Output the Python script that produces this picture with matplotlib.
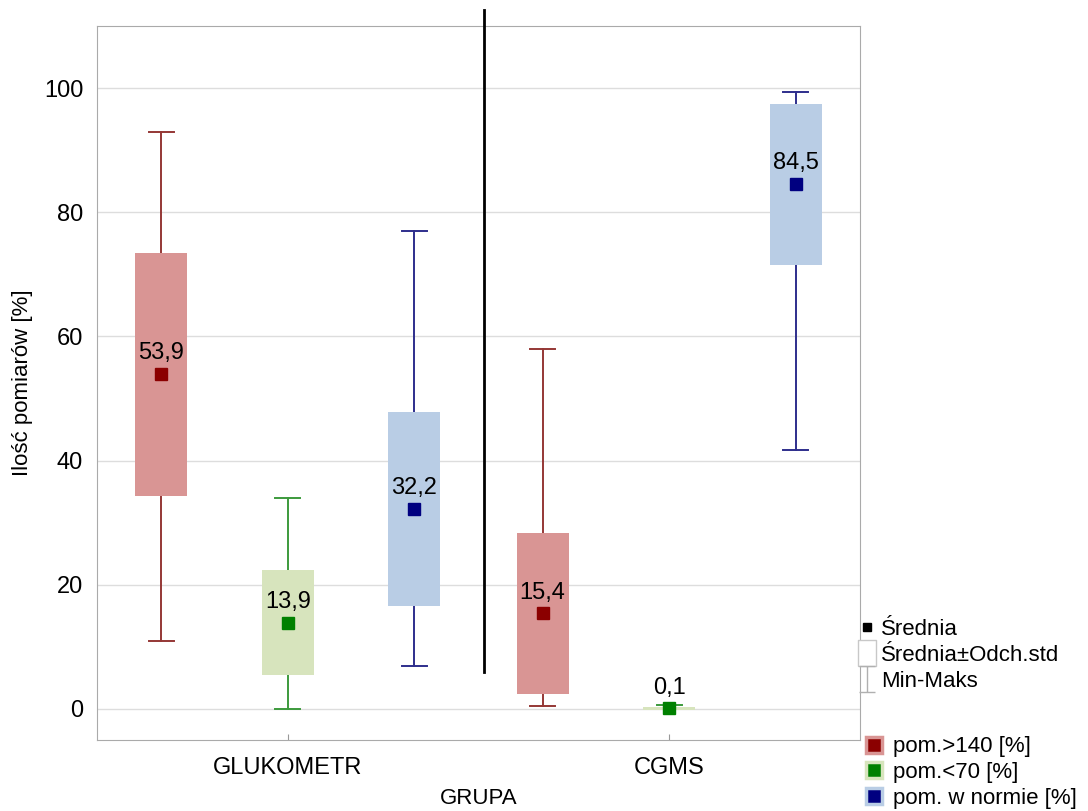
import matplotlib
matplotlib.use("Agg")
import matplotlib.pyplot as plt
from matplotlib.lines import Line2D
from matplotlib.patches import Rectangle
from matplotlib.path import Path

plt.rcParams['font.family'] = ['Liberation Sans', 'DejaVu Sans']

# dane
grupy = ["GLUKOMETR", "CGMS"]
serie = ["pom.>140 [%]", "pom.<70 [%]", "pom. w normie [%]"]
srednia = [[53.9, 13.9, 32.2], [15.4, 0.1, 84.5]]
odch_std = [[19.6, 8.45, 15.6], [12.95, 0.2, 12.95]]
minimum = [[11.0, 0.0, 7.0], [0.5, 0.0, 41.7]]
maksimum = [[93.0, 34.0, 77.0], [58.0, 0.6, 99.4]]
etykiety = [["53,9", "13,9", "32,2"], ["15,4", "0,1", "84,5"]]

kolor_box = ["#d99594", "#d7e4bd", "#b9cde5"]
kolor_wasy = ["#953735", "#3c9a3c", "#2e2e8c"]
kolor_sr = ["#8b0000", "#008000", "#000080"]

fig = plt.figure(figsize=(10.88, 8.11), dpi=100)
ax = fig.add_axes([0.0892, 0.0875, 0.7012, 0.8805])

srodki = [0.25, 0.75]
przes = [-0.166, 0.0, 0.166]
szer = 0.068
cap = 0.033

for g, xc in enumerate(srodki):
    for s, dx in enumerate(przes):
        x = xc + dx
        m = srednia[g][s]
        sd = odch_std[g][s]
        lo, hi = minimum[g][s], maksimum[g][s]
        ax.plot([x, x], [lo, hi], color=kolor_wasy[s], lw=1.4, zorder=2)
        ax.plot([x - cap / 2, x + cap / 2], [lo, lo], color=kolor_wasy[s], lw=1.4, zorder=2)
        ax.plot([x - cap / 2, x + cap / 2], [hi, hi], color=kolor_wasy[s], lw=1.4, zorder=2)
        ax.add_patch(Rectangle((x - szer / 2, m - sd), szer, 2 * sd,
                               facecolor=kolor_box[s], edgecolor='none', zorder=3))
        ax.plot(x, m, marker='s', ms=9, color=kolor_sr[s], ls='none', zorder=4)
        ax.annotate(etykiety[g][s], (x, m), xytext=(0, 15), textcoords='offset points',
                    ha='center', va='center', fontsize=17, zorder=5)

# linia podzialu grup
ax.plot([0.507, 0.507], [6, 112.5], color='black', lw=2, clip_on=False, zorder=5)

ax.set_xlim(0, 1)
ax.set_ylim(-5, 110)
ax.set_yticks([0, 20, 40, 60, 80, 100])
ax.set_xticks(srodki)
ax.set_xticklabels(grupy)
ax.tick_params(axis='both', labelsize=17, colors='black')
ax.tick_params(axis='y', length=0, pad=10)
ax.tick_params(axis='x', direction='in', length=4, color='#999999', pad=12)
ax.yaxis.grid(True, color='#dddddd', lw=1)
ax.set_axisbelow(True)
for sp in ax.spines.values():
    sp.set_color('#aaaaaa')

ax.set_ylabel("Ilość pomiarów [%]", fontsize=16, labelpad=8)
ax.set_xlabel("GRUPA", fontsize=16, labelpad=7)

# znaczniki legendy
prost = Path([(-0.33, -0.5), (0.33, -0.5), (0.33, 0.5), (-0.33, 0.5), (-0.33, -0.5)])
wasy = Path([(-0.3, -0.5), (0.3, -0.5), (0, -0.5), (0, 0.5), (-0.3, 0.5), (0.3, 0.5)],
            [Path.MOVETO, Path.LINETO, Path.MOVETO, Path.LINETO, Path.MOVETO, Path.LINETO])

h1 = [Line2D([], [], marker='s', color='black', ls='none', ms=6),
      Line2D([], [], marker=prost, mfc='white', mec='#c8c8c8', ls='none', ms=19, mew=1),
      Line2D([], [], marker=wasy, mfc='none', mec='#b0b0b0', ls='none', ms=19, mew=1)]
fig.legend(h1, ["Średnia", "Średnia±Odch.std", "Min-Maks"], loc='upper left',
           bbox_to_anchor=(0.782, 0.248), frameon=False, fontsize=16,
           handlelength=0.7, handletextpad=0.25, labelspacing=0.22, borderaxespad=0)

h2 = [Line2D([], [], marker='s', mfc=kolor_sr[i], mec=kolor_box[i], mew=2.5, ls='none', ms=12)
      for i in range(3)]
fig.legend(h2, serie, loc='upper left', bbox_to_anchor=(0.786, 0.103), frameon=False,
           fontsize=16, handlelength=0.9, handletextpad=0.4, labelspacing=0.22,
           borderaxespad=0)

fig.savefig("out.png", dpi=100)
